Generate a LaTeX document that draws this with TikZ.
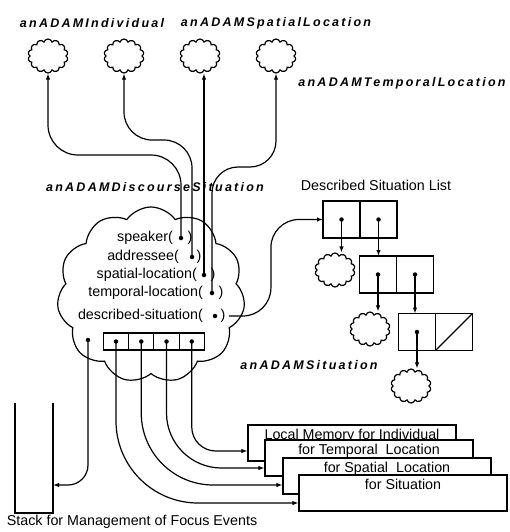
\documentclass[tikz,border=0pt]{standalone}
\usepackage{fontspec}
\setmainfont{Liberation Sans}
\newfontfamily\objfont[LetterSpace=18]{Liberation Sans}
\usepackage{tikz}
\usetikzlibrary{shapes.symbols, arrows.meta, positioning}
\usepackage{xcolor}

\begin{document}
\begin{tikzpicture}[
    x=1pt, y=-1pt,
    every node/.style={font=\fontsize{14.3}{16}\selectfont},
    obj/.style={font=\objfont\fontsize{12.5}{14}\selectfont\bfseries\itshape},
    puff/.style={draw, cloud, cloud puffs=14, cloud puff arc=150, minimum width=40pt, minimum height=34pt, inner sep=0pt, very thick},
    bigpuff/.style={draw, cloud, cloud puffs=11, cloud puff arc=110, minimum width=188pt, minimum height=176pt, very thick},
    slot/.style={anchor=east, inner sep=0pt},
    cell/.style={draw, very thick, minimum width=37pt, minimum height=37pt, outer sep=0pt, inner sep=0pt},
    slotcell/.style={draw, very thick, minimum width=25.25pt, minimum height=17pt, outer sep=0pt, inner sep=0pt},
    dot/.style={circle, fill, inner sep=0pt, minimum size=4.5pt},
    mem/.style={draw, very thick, fill=white, minimum width=208pt, inner sep=2pt, text height=12.5pt, text depth=19.5pt},
    arrow/.style={very thick, -{Latex[length=6pt, width=4.5pt]}}
]
\useasboundingbox (0,0) rectangle (509,532);

% Nodes
\node[obj] (indlbl) at (92,23) {anADAMIndividual};
\node[obj] (spalbl) at (276,23) {anADAMSpatialLocation};
\node[obj] (temlbl) at (402,83) {anADAMTemporalLocation};

\node[puff] (spkobj) at (48,56) {};
\node[puff] (adrobj) at (124,56) {};
\node[puff] (spaobj) at (200,56) {};
\node[puff] (temobj) at (276,56) {};

\node[obj] (dsclbl) at (155,187) {anADAMDiscourseSituation};
\node[bigpuff] (dsc) at (151,295) {};

\node[slot] (spk) at (173,238) {speaker(};
\node[dot] (spkptr) at (181,238) {};
\node (spkend) at (190,238) {)};
\node[slot] (adr) at (179,257) {addressee(};
\node[dot] (adrptr) at (192,257) {};
\node (adrend) at (199,257) {)};
\node[slot] (spl) at (197,275) {spatial-location(};
\node[dot] (splptr) at (204,275) {};
\node (splend) at (213,275) {)};
\node[slot] (tmp) at (203,293) {temporal-location(};
\node[dot] (tmpptr) at (212,293) {};
\node (tmpend) at (221,293) {)};
\node[slot] (dsp) at (203,316) {described-situation(};
\node[dot] (dspptr) at (215,316) {};
\node (dspend) at (223,316) {)};

\node[dot] (focptr) at (88,340) {};
\node[slotcell] (c1) at (116,341.5) {};
\node[slotcell, right=0pt of c1] (c2) {};
\node[slotcell, right=0pt of c2] (c3) {};
\node[slotcell, right=0pt of c3] (c4) {};
\node[dot] (c1ptr) at (c1) {};
\node[dot] (c2ptr) at (c2) {};
\node[dot] (c3ptr) at (c3) {};
\node[dot] (c4ptr) at (c4) {};

% Described situation list
\node (lstlbl) at (376,185) {Described Situation List};
\node[cell] (l1a) at (341.5,219.5) {};
\node[cell, right=0pt of l1a] (l1b) {};
\node[cell] (l2a) at (378,274.5) {};
\node[cell, right=0pt of l2a] (l2b) {};
\node[cell] (l3a) at (417,332) {};
\node[cell, right=0pt of l3a] (l3b) {};
\draw[very thick] (l3b.south west) -- (l3b.north east);
\node[dot] (l1aptr) at (l1a) {};
\node[dot] (l1bptr) at (l1b) {};
\node[dot] (l2aptr) at (l2a) {};
\node[dot] (l2bptr) at (l2b) {};
\node[dot] (l3aptr) at (l3a) {};
\node[puff] (sit1) at (335,270) {};
\node[puff] (sit2) at (370,329) {};
\node[puff] (sit3) at (411,386) {};
\node[obj] (sitlbl) at (309,365) {anADAMSituation};

% Stack
\draw[very thick] (15,403) -- (15,513) -- (53,513) -- (53,403);
\coordinate (stk) at (53,485);
\node (stklbl) at (132,522) {Stack for Management of Focus Events};

% Local memories
\node[mem] (mem1) at (352,443) {Local Memory for Individual};
\node[mem] (mem2) at (369,458) {for Temporal\ \ Location};
\node[mem] (mem3) at (387,476) {for Spatial\ \ Location};
\node[mem] (mem4) at (403,493) {for Situation};

% Connections
\draw[arrow, rounded corners=30pt] (spkptr.center) -- ++(0,-83) -| (spkobj.south);
\draw[arrow, rounded corners=28pt] (adrptr.center) -- ++(0,-117) -| (adrobj.south);
\draw[arrow] (splptr.center) -- (splptr |- spaobj.south);
\draw[arrow, rounded corners=26pt] (tmpptr.center) -- ++(0,-126) -| (temobj.south);
\draw[arrow, rounded corners=28pt] (dspend.east) -- ++(42,0) |- (l1a.west);

\draw[arrow] (l1aptr.center) -- (l1aptr |- sit1.north);
\draw[arrow] (l1bptr.center) -- (l1bptr |- l2a.north);
\draw[arrow] (l2aptr.center) -- (l2aptr |- sit2.north);
\draw[arrow] (l2bptr.center) -- (l2bptr |- l3a.north);
\draw[arrow] (l3aptr.center) -- (l3aptr |- sit3.north);

\draw[arrow, rounded corners=20pt] (focptr.center) |- (stk);
\draw[arrow, rounded corners=24pt] (c4ptr.center) |- ([yshift=-8pt]mem1.west);
\draw[arrow, rounded corners=55pt] (c3ptr.center) |- ([yshift=-10pt]mem2.west);
\draw[arrow, rounded corners=72pt] (c2ptr.center) |- ([yshift=-9pt]mem3.west);
\draw[arrow, rounded corners=82pt] (c1ptr.center) |- ([yshift=-10pt]mem4.west);

\end{tikzpicture}
\end{document}
